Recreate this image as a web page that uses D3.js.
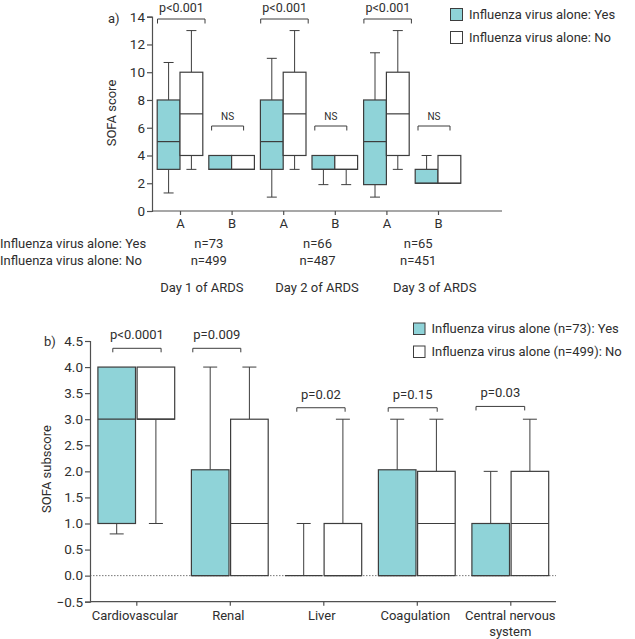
<!DOCTYPE html>
<html>
<head>
<meta charset="utf-8">
<script src="https://cdn.jsdelivr.net/npm/d3@7"></script>
<style>
  html,body{margin:0;padding:0;background:#fff;}
  svg{display:block;font-family:Roboto,"Open Sans",sans-serif;}
  text{fill:#2e2e2e;}
</style>
</head>
<body>
<svg id="chart" width="635" height="639"></svg>
<script>
// ---------------- DATA ----------------
// Panel a
const days = ["Day 1 of ARDS", "Day 2 of ARDS", "Day 3 of ARDS"];
const subgroups = ["A", "B"];
const slotsA = ["D1A", "D1B", "D2A", "D2B", "D3A", "D3B"];
// [min, q1, median, q3, max]
const sofaYes = [
  [1.3, 3, 5, 8, 10.7],
  [3, 3, 3, 4, 4],
  [1, 3, 5, 8, 11],
  [1.9, 3, 3, 4, 4],
  [1, 1.9, 5, 8, 11.4],
  [2, 2, 2, 3, 4]
];
const sofaNo = [
  [3, 4, 7, 10, 13],
  [3, 3, 3, 4, 4],
  [3, 4, 7, 10, 13],
  [1.9, 3, 3, 4, 4],
  [3, 4, 7, 10, 13],
  [2, 2, 2, 4, 4]
];
const pLabelsA = ["p<0.001", "NS", "p<0.001", "NS", "p<0.001", "NS"];
const nYes = ["n=73", "n=66", "n=65"];
const nNo = ["n=499", "n=487", "n=451"];
const yTicksA = [0, 2, 4, 6, 8, 10, 12, 14];
const legendA = ["Influenza virus alone: Yes", "Influenza virus alone: No"];

// Panel b
const organs = ["Cardiovascular", "Renal", "Liver", "Coagulation", "Central nervous system"];
const subYes = [
  [0.8, 1, 3, 4, 4],
  [0, 0, 0, 2.03, 4],
  [0, 0, 0, 0, 1],
  [0, 0, 0, 2.03, 3],
  [0, 0, 0, 1, 2]
];
const subNo = [
  [1, 3, 3, 4, 4],
  [0, 0, 1, 3, 4],
  [0, 0, 0, 1, 3],
  [0, 0, 1, 2, 3],
  [0, 0, 1, 2, 3]
];
const pLabelsB = ["p<0.0001", "p=0.009", "p=0.02", "p=0.15", "p=0.03"];
const yTicksB = [-0.5, 0, 0.5, 1, 1.5, 2, 2.5, 3, 3.5, 4, 4.5];
const legendB = ["Influenza virus alone (n=73): Yes", "Influenza virus alone (n=499): No"];

// ---------------- STYLE / LAYOUT ----------------
const TEAL = "#8fd3d8";
const STROKE = "#3d3d3d";
const AXIS = "#505050";

const svg = d3.select("#chart");

function drawBox(g, cx, w, s, y, fill, capW) {
  const [mn, q1, md, q3, mx] = s;
  const bg = g.append("g");
  if (mx > q3) {
    bg.append("line").attr("x1", cx).attr("x2", cx).attr("y1", y(mx)).attr("y2", y(q3)).attr("stroke", STROKE);
    bg.append("line").attr("x1", cx - capW/2).attr("x2", cx + capW/2).attr("y1", y(mx)).attr("y2", y(mx)).attr("stroke", STROKE);
  }
  if (mn < q1) {
    bg.append("line").attr("x1", cx).attr("x2", cx).attr("y1", y(q1)).attr("y2", y(mn)).attr("stroke", STROKE);
    bg.append("line").attr("x1", cx - capW/2).attr("x2", cx + capW/2).attr("y1", y(mn)).attr("y2", y(mn)).attr("stroke", STROKE);
  }
  bg.append("rect").attr("x", cx - w/2).attr("y", y(q3)).attr("width", w)
    .attr("height", Math.max(0, y(q1) - y(q3))).attr("fill", fill).attr("stroke", STROKE).attr("stroke-width", 1.2);
  bg.append("line").attr("x1", cx - w/2).attr("x2", cx + w/2).attr("y1", y(md)).attr("y2", y(md)).attr("stroke", STROKE).attr("stroke-width", 1.2);
}

function bracket(g, x1, x2, yb, drop) {
  g.append("path").attr("d", `M${x1},${yb+drop}V${yb}H${x2}V${yb+drop}`)
    .attr("fill", "none").attr("stroke", STROKE).attr("stroke-width", 1);
}

function styleAxis(ax) {
  ax.select(".domain").attr("stroke", AXIS).attr("stroke-width", 1.2);
  ax.selectAll(".tick line").attr("stroke", AXIS).attr("stroke-width", 1.2);
  ax.selectAll(".tick text").attr("fill", "#3a3a3a").style("font-family", "Roboto, sans-serif");
}

// ---------------- PANEL A ----------------
(function(){
  const g = svg.append("g");
  const yA = d3.scaleLinear().domain([0, 14]).range([211, 16.7]);
  const xA = d3.scalePoint().domain(slotsA).range([180, 438]);
  const bw = 22.8;

  const yAx = g.append("g").attr("transform", "translate(152,0)")
    .call(d3.axisLeft(yA).tickValues(yTicksA).tickSize(5).tickPadding(2).tickFormat(d3.format("d")));
  styleAxis(yAx);
  yAx.selectAll(".tick text").attr("font-size", 13.5);

  const xAx = g.append("g").attr("transform", "translate(0,211)")
    .call(d3.axisBottom(xA).tickSize(4).tickSizeOuter(0).tickFormat((d, i) => subgroups[i % 2]).tickPadding(4));
  xAx.select(".domain").attr("d", "M152,0H502");
  styleAxis(xAx);
  xAx.selectAll(".tick text").attr("font-size", 13);

  slotsA.forEach((s, i) => {
    const cx = xA(s);
    drawBox(g, cx - bw/2, bw, sofaYes[i], yA, TEAL, 10);
    drawBox(g, cx + bw/2, bw, sofaNo[i], yA, "#fff", 10);
    if (i % 2 === 0) {
      bracket(g, cx - 22.5, cx + 25, 19, 4.5);
      g.append("text").attr("x", cx + 1.5).attr("y", 12).attr("text-anchor", "middle").attr("font-size", 12.5).text(pLabelsA[i]);
    } else {
      bracket(g, cx - 20, cx + 12, 126, 4.5);
      g.append("text").attr("x", cx - 4).attr("y", 119.5).attr("text-anchor", "middle").attr("font-size", 10).text(pLabelsA[i]);
    }
  });

  g.append("text").attr("x", 108).attr("y", 23).attr("font-size", 13).text("a)");
  g.append("text").attr("transform", "translate(116,113) rotate(-90)").attr("text-anchor", "middle")
    .attr("font-size", 13).text("SOFA score");

  // legend
  legendA.forEach((t, i) => {
    const yy = 14.5 + i * 23;
    g.append("rect").attr("x", 450.5).attr("y", yy - 6).attr("width", 12).attr("height", 12)
      .attr("fill", i === 0 ? TEAL : "#fff").attr("stroke", STROKE).attr("stroke-width", 1);
    g.append("text").attr("x", 469).attr("y", yy).attr("dy", "0.36em").attr("font-size", 13).text(t);
  });

  // n table
  g.append("text").attr("x", 0).attr("y", 243.5).attr("dy", "0.36em").attr("font-size", 13).text(legendA[0]);
  g.append("text").attr("x", 0).attr("y", 260).attr("dy", "0.36em").attr("font-size", 13).text(legendA[1]);
  const nOffset = [3, 8.5, 6];
  const dayOffset = [-4, 8, 22.5];
  days.forEach((d, i) => {
    const c = (xA(slotsA[2*i]) + xA(slotsA[2*i+1])) / 2;
    g.append("text").attr("x", c + nOffset[i]).attr("y", 243.5).attr("dy", "0.36em").attr("text-anchor", "middle").attr("font-size", 13).text(nYes[i]);
    g.append("text").attr("x", c + nOffset[i]).attr("y", 260).attr("dy", "0.36em").attr("text-anchor", "middle").attr("font-size", 13).text(nNo[i]);
    g.append("text").attr("x", c + dayOffset[i]).attr("y", 287).attr("dy", "0.36em").attr("text-anchor", "middle").attr("font-size", 13).text(d);
  });
})();

// ---------------- PANEL B ----------------
(function(){
  const g = svg.append("g");
  const yB = d3.scaleLinear().domain([-0.5, 4.5]).range([601.7, 341]);
  const xBox = d3.scalePoint().domain(organs).range([136.3, 510.3]);
  const bw = 37.6, gap = 1.6;

  // dotted zero line
  g.append("line").attr("x1", 90).attr("x2", 556).attr("y1", yB(0)).attr("y2", yB(0))
    .attr("stroke", "#777").attr("stroke-width", 1).attr("stroke-dasharray", "1.5,1.5");

  const yAx = g.append("g").attr("transform", "translate(90,0)")
    .call(d3.axisLeft(yB).tickValues(yTicksB).tickSize(5).tickPadding(2).tickFormat(d => d3.format(".1f")(d).replace("-", "\u2212")));
  styleAxis(yAx);
  yAx.selectAll(".tick text").attr("font-size", 13.5);

  const xAx = g.append("g").attr("transform", `translate(0,${yB(-0.5)})`)
    .call(d3.axisBottom(xBox).tickSize(4).tickSizeOuter(0).tickFormat(""));
  xAx.select(".domain").attr("d", `M90,0H556`);
  styleAxis(xAx);

  organs.forEach((o, i) => {
    const x = xBox(o);
    if (o === "Central nervous system") {
      g.append("text").attr("x", x).attr("y", 615).attr("dy", "0.36em").attr("text-anchor", "middle").attr("font-size", 13).text("Central nervous");
      g.append("text").attr("x", x).attr("y", 631.5).attr("dy", "0.36em").attr("text-anchor", "middle").attr("font-size", 13).text("system");
    } else {
      g.append("text").attr("x", x - 1.5).attr("y", 615).attr("dy", "0.36em").attr("text-anchor", "middle").attr("font-size", 13).text(o);
    }
  });

  const brOff = [[-23.5, 24.8], [-37, 11], [-26.5, 21.8], [-28.6, 20.4], [-34.3, 14.4]];
  const brY = [4.36, 4.36, 3.22, 3.22, 3.245];
  organs.forEach((o, i) => {
    const cx = xBox(o);
    drawBox(g, cx - gap/2 - bw/2, bw, subYes[i], yB, TEAL, 14);
    drawBox(g, cx + gap/2 + bw/2, bw, subNo[i], yB, "#fff", 14);
    const x1 = cx + brOff[i][0], x2 = cx + brOff[i][1];
    const yb = yB(brY[i]);
    bracket(g, x1, x2, yb, 4);
    g.append("text").attr("x", (x1 + x2) / 2).attr("y", yb - 9).attr("text-anchor", "middle").attr("font-size", 13).text(pLabelsB[i]);
  });

  g.append("text").attr("x", 44).attr("y", 346).attr("font-size", 13).text("b)");
  g.append("text").attr("transform", "translate(51,469) rotate(-90)").attr("text-anchor", "middle")
    .attr("font-size", 13).text("SOFA subscore");

  legendB.forEach((t, i) => {
    const yy = 328.5 + i * 23;
    g.append("rect").attr("x", 413.5).attr("y", yy - 5.5).attr("width", 11.5).attr("height", 11.5)
      .attr("fill", i === 0 ? TEAL : "#fff").attr("stroke", STROKE).attr("stroke-width", 1);
    g.append("text").attr("x", 431.5).attr("y", yy).attr("dy", "0.36em").attr("font-size", 13).text(t);
  });
})();
</script>
</body>
</html>
